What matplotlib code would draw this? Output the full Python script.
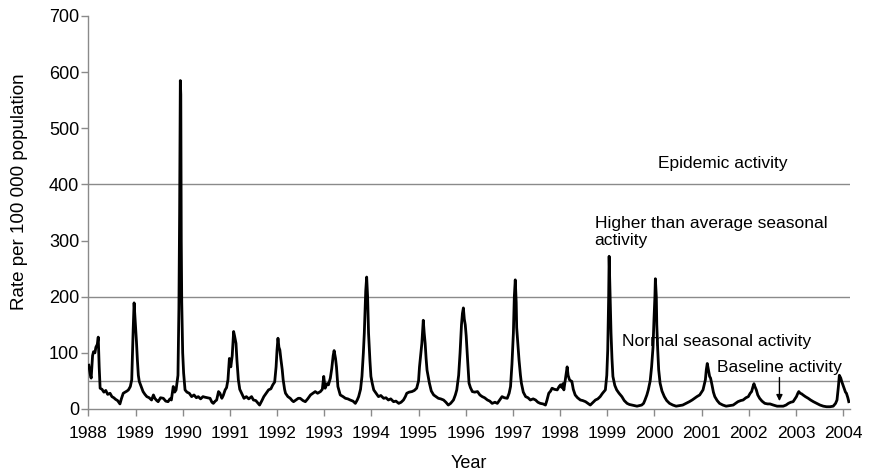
"""
Weekly influenza-like illness consultation rate, 1988-2004, with activity thresholds.
"""

import numpy as np
import matplotlib
matplotlib.use("Agg")
import matplotlib.pyplot as plt

plt.rcParams["font.family"] = ["Liberation Sans", "DejaVu Sans"]

# (decimal year, rate per 100 000)
season_88_91 = [
    (1988.01, 78), (1988.04, 62), (1988.06, 55), (1988.09, 95), (1988.11, 102),
    (1988.14, 100), (1988.16, 110), (1988.19, 115), (1988.21, 128), (1988.23, 75),
    (1988.25, 37), (1988.29, 35), (1988.33, 30), (1988.37, 33), (1988.41, 26),
    (1988.46, 28), (1988.50, 22), (1988.54, 20), (1988.58, 17), (1988.62, 15),
    (1988.67, 9), (1988.70, 18), (1988.74, 28), (1988.78, 30), (1988.82, 32),
    (1988.85, 34), (1988.89, 40), (1988.92, 52), (1988.95, 140), (1988.97, 189),
    (1989.00, 147), (1989.02, 120), (1989.04, 87), (1989.06, 60), (1989.08, 49),
    (1989.12, 40), (1989.16, 31), (1989.20, 26), (1989.24, 22), (1989.29, 20),
    (1989.34, 16), (1989.38, 25), (1989.41, 19), (1989.45, 15), (1989.48, 13),
    (1989.53, 20), (1989.59, 19), (1989.64, 14), (1989.69, 13), (1989.73, 18),
    (1989.76, 16), (1989.80, 40), (1989.83, 30), (1989.86, 34), (1989.90, 60),
    (1989.92, 180), (1989.935, 350), (1989.95, 585), (1989.96, 560), (1989.97, 300),
    (1989.98, 190), (1990.00, 100), (1990.02, 64), (1990.05, 34), (1990.09, 30),
    (1990.14, 28), (1990.19, 22), (1990.24, 25), (1990.29, 20), (1990.33, 22),
    (1990.38, 18), (1990.43, 22), (1990.47, 21), (1990.52, 20), (1990.58, 19),
    (1990.62, 12), (1990.65, 10), (1990.69, 14), (1990.72, 16), (1990.76, 31),
    (1990.79, 28), (1990.83, 19), (1990.86, 24), (1990.90, 34), (1990.93, 38),
    (1990.96, 52), (1990.99, 90), (1991.02, 75), (1991.05, 95), (1991.08, 138),
    (1991.10, 130), (1991.13, 117), (1991.15, 87), (1991.18, 52), (1991.21, 35),
    (1991.25, 28), (1991.30, 19), (1991.35, 22), (1991.40, 18), (1991.46, 22),
    (1991.50, 16), (1991.55, 15), (1991.60, 10), (1991.63, 7), (1991.68, 15),
    (1991.72, 22), (1991.77, 28), (1991.82, 34), (1991.87, 36), (1991.91, 43),
    (1991.95, 48),
]

season_92_95 = [
    (1991.98, 75), (1992.00, 105), (1992.02, 126), (1992.04, 110), (1992.06, 105),
    (1992.08, 90), (1992.11, 70), (1992.13, 52), (1992.16, 35), (1992.18, 28),
    (1992.23, 22), (1992.28, 19), (1992.32, 15), (1992.35, 13), (1992.40, 16),
    (1992.45, 19), (1992.49, 19), (1992.55, 15), (1992.60, 13), (1992.65, 18),
    (1992.71, 25), (1992.76, 28), (1992.81, 31), (1992.86, 28), (1992.92, 31),
    (1992.96, 35), (1992.99, 58), (1993.02, 37), (1993.06, 45), (1993.09, 43),
    (1993.13, 55), (1993.16, 72), (1993.19, 95), (1993.21, 104), (1993.24, 90),
    (1993.26, 75), (1993.29, 40), (1993.34, 25), (1993.40, 22), (1993.45, 19),
    (1993.50, 18), (1993.55, 16), (1993.61, 14), (1993.66, 10), (1993.70, 16),
    (1993.73, 22), (1993.77, 35), (1993.80, 58), (1993.83, 100), (1993.85, 135),
    (1993.88, 210), (1993.90, 235), (1993.92, 200), (1993.94, 135), (1993.97, 85),
    (1993.99, 58), (1994.02, 45), (1994.05, 34), (1994.10, 28), (1994.15, 22),
    (1994.20, 24), (1994.26, 19), (1994.31, 20), (1994.36, 16), (1994.41, 18),
    (1994.47, 13), (1994.52, 14), (1994.58, 10), (1994.63, 12), (1994.68, 16),
    (1994.72, 22), (1994.75, 28), (1994.80, 30), (1994.86, 31), (1994.91, 33),
    (1994.96, 37), (1995.00, 50), (1995.02, 75), (1995.05, 100), (1995.07, 117),
    (1995.10, 158), (1995.12, 135), (1995.14, 117), (1995.16, 90), (1995.18, 69),
    (1995.21, 55), (1995.23, 46), (1995.27, 32), (1995.32, 25), (1995.37, 22),
    (1995.42, 19), (1995.47, 18), (1995.53, 16), (1995.58, 12), (1995.63, 7),
    (1995.68, 10), (1995.74, 16), (1995.78, 25), (1995.81, 34), (1995.85, 60),
    (1995.88, 100), (1995.91, 150), (1995.93, 170), (1995.95, 180), (1995.97, 160),
    (1995.99, 150),
]

season_96_99 = [
    (1996.01, 130), (1996.03, 100), (1996.04, 87), (1996.07, 46), (1996.10, 38),
    (1996.14, 31), (1996.19, 30), (1996.25, 31), (1996.30, 25), (1996.35, 22),
    (1996.40, 20), (1996.46, 16), (1996.51, 14), (1996.56, 10), (1996.62, 12),
    (1996.67, 10), (1996.72, 16), (1996.77, 22), (1996.82, 20), (1996.88, 19),
    (1996.92, 28), (1996.95, 40), (1996.98, 80), (1997.01, 135), (1997.03, 200),
    (1997.05, 230), (1997.07, 190), (1997.08, 145), (1997.11, 110), (1997.13, 87),
    (1997.16, 60), (1997.18, 46), (1997.22, 30), (1997.27, 22), (1997.32, 20),
    (1997.37, 16), (1997.43, 18), (1997.48, 16), (1997.53, 12), (1997.58, 10),
    (1997.64, 9), (1997.69, 7), (1997.72, 15), (1997.76, 28), (1997.80, 32),
    (1997.83, 37), (1997.88, 35), (1997.94, 34), (1997.98, 40), (1998.01, 43),
    (1998.04, 38), (1998.06, 45), (1998.08, 34), (1998.11, 52), (1998.13, 65),
    (1998.15, 75), (1998.17, 60), (1998.20, 52), (1998.23, 50), (1998.25, 49),
    (1998.28, 35), (1998.32, 25), (1998.37, 20), (1998.43, 16), (1998.48, 15),
    (1998.54, 13), (1998.59, 10), (1998.64, 7), (1998.70, 12), (1998.75, 16),
    (1998.80, 18), (1998.85, 22), (1998.90, 28), (1998.96, 34), (1998.99, 60),
    (1999.01, 105), (1999.03, 200), (1999.04, 272), (1999.06, 200), (1999.08, 135),
    (1999.10, 90), (1999.12, 58), (1999.16, 42), (1999.20, 34), (1999.25, 28),
    (1999.31, 22), (1999.36, 15), (1999.42, 10), (1999.47, 8), (1999.52, 7),
    (1999.58, 6), (1999.63, 5), (1999.68, 6), (1999.73, 7), (1999.77, 10),
    (1999.80, 16), (1999.84, 25), (1999.87, 34), (1999.91, 50), (1999.94, 75),
    (1999.97, 110),
]

season_00_04 = [
    (1999.99, 158), (2000.01, 200), (2000.02, 232), (2000.04, 200), (2000.05, 150),
    (2000.07, 105), (2000.09, 70), (2000.12, 46), (2000.16, 32), (2000.21, 22),
    (2000.26, 15), (2000.32, 10), (2000.39, 7), (2000.46, 5), (2000.53, 6),
    (2000.60, 7), (2000.67, 10), (2000.74, 13), (2000.80, 16), (2000.85, 19),
    (2000.90, 22), (2000.96, 25), (2001.00, 30), (2001.03, 34), (2001.06, 45),
    (2001.08, 52), (2001.10, 70), (2001.12, 81), (2001.14, 72), (2001.17, 58),
    (2001.19, 55), (2001.22, 43), (2001.25, 30), (2001.28, 22), (2001.33, 15),
    (2001.38, 10), (2001.45, 7), (2001.52, 5), (2001.60, 6), (2001.67, 7),
    (2001.72, 10), (2001.77, 13), (2001.83, 15), (2001.88, 16), (2001.94, 20),
    (2001.99, 22), (2002.03, 28), (2002.06, 31), (2002.09, 40), (2002.11, 45),
    (2002.13, 40), (2002.16, 34), (2002.19, 25), (2002.23, 19), (2002.28, 14),
    (2002.34, 10), (2002.40, 9), (2002.45, 9), (2002.52, 7), (2002.60, 5),
    (2002.67, 5), (2002.73, 5), (2002.79, 7), (2002.84, 10), (2002.89, 12),
    (2002.94, 13), (2002.98, 18), (2003.01, 22), (2003.04, 28), (2003.06, 31),
    (2003.09, 28), (2003.12, 27), (2003.15, 25), (2003.20, 22), (2003.26, 19),
    (2003.31, 16), (2003.37, 13), (2003.44, 10), (2003.51, 7), (2003.58, 5),
    (2003.65, 4), (2003.72, 4), (2003.79, 5), (2003.84, 10), (2003.87, 16),
    (2003.90, 40), (2003.92, 60), (2003.95, 55), (2003.97, 49), (2004.00, 42),
    (2004.02, 37), (2004.05, 30), (2004.07, 28), (2004.10, 20), (2004.12, 13),
]

thresholds = [50, 200, 400]
year_ticks = list(range(1988, 2005))
rate_ticks = list(range(0, 701, 100))

series = np.array(season_88_91 + season_92_95 + season_96_99 + season_00_04)
years, rates = series[:, 0], series[:, 1]

GREY = "#8a8a8a"

fig = plt.figure(figsize=(8.72, 4.76), dpi=100)
ax = fig.add_axes([0.1013, 0.1408, 0.8737, 0.8256])

for level in thresholds:
    ax.axhline(level, color=GREY, lw=1.0, zorder=1)

ax.plot(years, rates, color="black", lw=2.0, solid_joinstyle="round", zorder=3)

ax.set_xlim(1988, 2004.15)
ax.set_ylim(0, 700)
ax.set_xticks(year_ticks)
ax.set_xticklabels([str(y) for y in year_ticks])
ax.set_yticks(rate_ticks)

for side in ("top", "right"):
    ax.spines[side].set_visible(False)
for side in ("left", "bottom"):
    ax.spines[side].set_color(GREY)
    ax.spines[side].set_linewidth(1.0)
ax.tick_params(axis="both", colors=GREY, labelcolor="black", length=5, width=1.0)
ax.tick_params(axis="x", pad=7, labelsize=12.5)
ax.tick_params(axis="y", pad=1.5, labelsize=13)

ax.set_ylabel("Rate per 100 000 population", fontsize=13.5)
ax.yaxis.set_label_coords(-0.079, 0.553)
ax.set_xlabel("Year", fontsize=13)
ax.xaxis.set_label_coords(0.5, -0.118)

# activity band annotations
ax.text(2001.45, 438, "Epidemic activity", fontsize=12.5, ha="center", va="center")
ax.text(1998.73, 315, "Higher than average seasonal\nactivity", fontsize=12.5,
        ha="left", va="center", linespacing=1.15)
ax.text(1999.32, 121, "Normal seasonal activity", fontsize=12.5, ha="left", va="center")
ax.text(2001.33, 73, "Baseline activity", fontsize=12.5, ha="left", va="center")
ax.annotate("", xy=(2002.65, 14), xytext=(2002.65, 56),
            arrowprops=dict(arrowstyle="-|>", color="black", lw=1.0,
                            mutation_scale=9, shrinkA=0, shrinkB=0))

fig.savefig("out.png", dpi=100)
